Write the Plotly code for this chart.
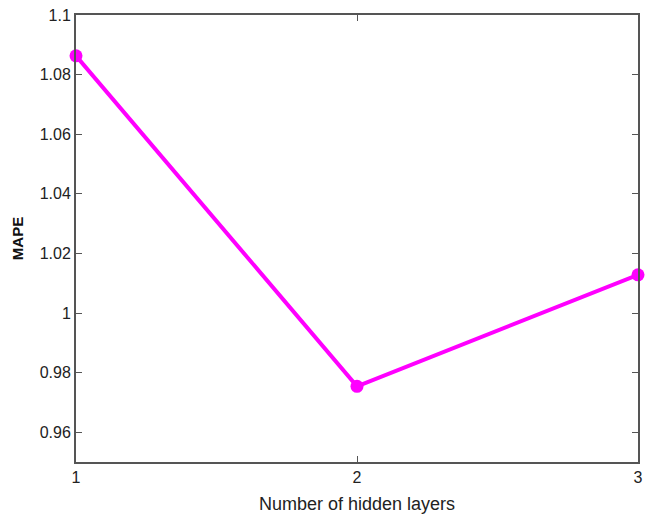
import plotly.graph_objects as go

# Number of hidden layers vs. MAPE
hidden_layers = [1, 2, 3]
mape = [1.0863, 0.9754, 1.0128]

x_ticks = [1, 2, 3]
y_ticks = [0.96, 0.98, 1.0, 1.02, 1.04, 1.06, 1.08, 1.1]
y_tick_text = ["0.96", "0.98", "1", "1.02", "1.04", "1.06", "1.08", "1.1"]

fig = go.Figure()
fig.add_trace(go.Scatter(
    x=hidden_layers,
    y=mape,
    mode="lines+markers",
    line=dict(color="#FF00FF", width=4),
    marker=dict(color="#FF00FF", size=13),
    cliponaxis=False,
    showlegend=False,
))

axis_common = dict(
    showline=True,
    linecolor="#555555",
    linewidth=2,
    mirror="ticks",
    ticks="inside",
    ticklen=6,
    tickcolor="#555555",
    showgrid=False,
    zeroline=False,
    tickfont=dict(family="Liberation Sans, Arial", size=16, color="#222222"),
)

fig.update_layout(
    width=647,
    height=517,
    margin=dict(l=76, r=4, t=15, b=55),
    paper_bgcolor="white",
    plot_bgcolor="white",
    font=dict(family="Liberation Sans, Arial", color="#222222"),
    xaxis=dict(
        range=[1, 3],
        tickvals=x_ticks,
        title=dict(text="Number of hidden layers", font=dict(size=18), standoff=12),
        **axis_common,
    ),
    yaxis=dict(
        range=[0.95, 1.1],
        tickvals=y_ticks,
        ticktext=y_tick_text,
        title=dict(text="<b>MAPE</b>", font=dict(size=15, color="#111111"), standoff=12),
        **axis_common,
    ),
)

fig.write_html("out.html")
